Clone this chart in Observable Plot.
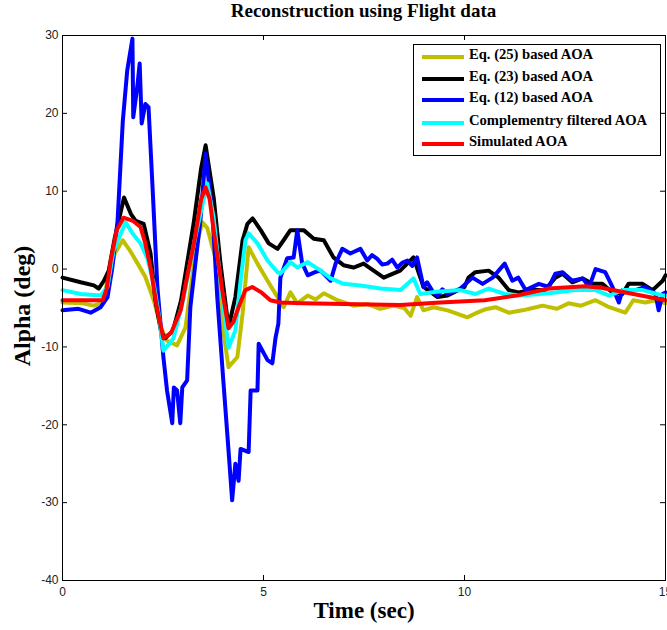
<!DOCTYPE html>
<html>
<head>
<meta charset="utf-8">
<script src="https://cdn.jsdelivr.net/npm/d3@7"></script>
<script src="https://cdn.jsdelivr.net/npm/@observablehq/plot@0.6"></script>
<style>
  html, body { margin: 0; padding: 0; background: white; }
  #wrap { position: relative; width: 667px; height: 630px; overflow: hidden; }
  #title { height: 30px; line-height: 30px; padding-left: 62px; width: 603px; text-align: center;
           font: bold 19px "Liberation Serif", "Times New Roman", serif; color: #000; }
  #legend { position: absolute; left: 413px; top: 44px; width: 246px; height: 110px;
            border: 1px solid #000; background: #fff; }
  .row { position: absolute; left: 0; height: 20px; width: 246px; }
  .sw { position: absolute; left: 8px; top: 9px; width: 42px; height: 4px; }
  .lb { position: absolute; left: 55px; top: 0; line-height: 22px; white-space: nowrap;
        font: bold 14.6px "Liberation Serif", "Times New Roman", serif; color: #000; }
</style>
</head>
<body>
<div id="wrap">
  <div id="title">Reconstruction using Flight data</div>
  <div id="chart"></div>
  <div id="legend"></div>
</div>
<script>
// Series: [time (sec), alpha (deg)]
const eq25 = [[0,-4.3],[0.5,-4.4],[0.78,-4.7],[1.0,-4.3],[1.12,-1.5],[1.3,2.0],[1.5,3.7],[1.7,2.2],[1.87,0.7],[2.06,-1.0],[2.27,-4.0],[2.45,-7.5],[2.6,-9.2],[2.85,-9.8],[3.06,-7.5],[3.2,-2.0],[3.35,3.5],[3.48,6.0],[3.6,5.3],[3.72,3.0],[3.85,0.7],[4.0,-7.9],[4.13,-12.6],[4.35,-11.3],[4.48,-5.7],[4.63,2.8],[4.85,0.7],[5.1,-1.5],[5.35,-3.6],[5.5,-4.9],[5.67,-3.0],[5.84,-4.4],[6.1,-3.4],[6.3,-3.9],[6.5,-3.1],[6.84,-4.0],[7.24,-4.7],[7.6,-4.5],[7.9,-5.1],[8.24,-4.7],[8.5,-5.0],[8.66,-6.0],[8.82,-3.6],[8.98,-5.3],[9.23,-4.9],[9.58,-5.3],[10.07,-6.2],[10.27,-5.7],[10.5,-5.2],[10.77,-4.9],[11.1,-5.6],[11.44,-5.3],[11.7,-5.0],[11.94,-4.7],[12.3,-5.1],[12.59,-4.4],[12.9,-4.7],[13.26,-4.0],[13.6,-4.9],[14.0,-5.6],[14.2,-4.0],[14.5,-4.3],[14.75,-4.0],[15,-4.4]];
const eq23 = [[0,-1.1],[0.45,-1.7],[0.78,-2.1],[0.9,-2.5],[1.03,-1.5],[1.15,-0.2],[1.3,4.0],[1.53,9.2],[1.7,7.1],[1.82,6.2],[2.02,5.8],[2.19,2.0],[2.31,-4.0],[2.45,-8.0],[2.55,-8.9],[2.75,-7.9],[2.95,-4.0],[3.26,5.8],[3.45,13.0],[3.56,15.9],[3.76,9.2],[3.93,0.7],[4.13,-7.5],[4.3,-3.6],[4.48,3.7],[4.6,5.8],[4.73,6.5],[4.93,5.0],[5.13,3.3],[5.35,2.6],[5.5,3.7],[5.67,5.0],[6.0,5.0],[6.25,3.9],[6.5,3.7],[6.74,1.5],[6.99,0.5],[7.24,0.2],[7.49,0.7],[7.74,-0.2],[7.99,-1.1],[8.4,-0.2],[8.73,1.5],[8.98,-2.3],[9.33,-3.6],[9.58,-3.4],[10.0,-2.3],[10.1,-1.1],[10.27,-0.4],[10.6,-0.2],[10.85,-1.1],[11.1,-2.7],[11.34,-3.0],[11.7,-2.7],[12.0,-2.7],[12.26,-1.1],[12.44,-0.6],[12.68,-1.7],[12.94,-1.2],[13.18,-1.9],[13.43,-1.9],[13.68,-3.0],[13.93,-3.2],[14.08,-1.9],[14.43,-1.9],[14.68,-2.7],[14.93,-1.5],[15,-0.8]];
const eq12 = [[0,-5.3],[0.4,-5.1],[0.7,-5.6],[0.95,-4.9],[1.12,-3.6],[1.24,0.2],[1.37,6.2],[1.5,19.0],[1.61,25.5],[1.74,29.6],[1.76,19.5],[1.86,23.4],[1.92,26.4],[1.97,18.7],[2.06,21.2],[2.14,20.8],[2.24,10.5],[2.36,-2.3],[2.51,-11.3],[2.6,-15.6],[2.73,-19.8],[2.77,-15.2],[2.85,-15.6],[2.93,-19.8],[2.98,-15.2],[3.1,-14.3],[3.18,-4.9],[3.3,0.5],[3.43,6.2],[3.56,14.8],[3.73,7.1],[3.85,-3.6],[4.0,-14.3],[4.13,-23.3],[4.22,-29.7],[4.3,-25.0],[4.38,-27.2],[4.43,-23.1],[4.63,-23.5],[4.68,-15.6],[4.85,-15.6],[4.88,-9.6],[5.1,-11.7],[5.22,-12.1],[5.3,-8.8],[5.37,-7.0],[5.42,-1.1],[5.59,1.4],[5.75,1.5],[5.84,5.0],[5.96,0.8],[6.1,-0.8],[6.28,-0.4],[6.42,-0.2],[6.67,-1.5],[6.8,0.8],[6.96,2.6],[7.16,2.0],[7.41,2.6],[7.58,1.1],[7.7,1.8],[7.83,1.3],[7.95,0.6],[8.08,0.7],[8.2,1.2],[8.33,0.2],[8.45,0.8],[8.58,1.1],[8.7,0.4],[8.82,1.5],[8.98,-2.3],[9.07,-1.7],[9.2,-2.8],[9.33,-3.4],[9.45,-2.6],[9.58,-3.2],[9.9,-2.5],[10.2,-1.1],[10.45,-1.9],[10.7,-1.1],[11.0,0.7],[11.19,-1.5],[11.34,-1.1],[11.52,-2.7],[11.85,-1.9],[12.1,-2.3],[12.26,-0.6],[12.44,-0.4],[12.68,-1.5],[12.94,-1.2],[13.1,-2.3],[13.26,0.0],[13.5,-0.4],[13.68,-2.3],[13.84,-4.3],[13.93,-2.7],[14.25,-2.7],[14.5,-2.3],[14.75,-3.2],[14.83,-5.3],[14.93,-3.2],[15,-3.0]];
const compFilt = [[0,-2.7],[0.45,-3.2],[0.95,-3.4],[1.12,-2.3],[1.27,2.4],[1.57,6.0],[1.74,4.6],[1.94,3.3],[2.11,1.4],[2.27,-1.9],[2.4,-6.0],[2.51,-10.5],[2.76,-8.9],[3.0,-4.0],[3.3,4.0],[3.6,11.0],[3.76,6.6],[3.93,-1.5],[4.13,-10.1],[4.3,-7.9],[4.43,-1.5],[4.55,3.7],[4.63,4.6],[4.85,3.3],[5.1,1.1],[5.35,-0.4],[5.42,-0.6],[5.67,0.9],[5.84,0.2],[6.1,0.9],[6.42,-0.2],[6.67,-1.2],[6.99,-1.9],[7.41,-2.1],[7.91,-2.5],[8.41,-2.7],[8.73,-1.2],[8.9,-3.2],[9.3,-2.9],[9.9,-2.7],[10.27,-3.2],[10.6,-2.5],[11.0,-3.2],[11.44,-3.4],[11.85,-3.2],[12.26,-3.0],[12.76,-2.7],[13.26,-2.7],[13.6,-3.4],[13.93,-2.7],[14.43,-2.7],[14.93,-3.4],[15,-3.4]];
const simulated = [[0,-4.0],[0.5,-4.0],[1.0,-4.0],[1.1,-2.5],[1.2,1.1],[1.35,5.0],[1.52,6.6],[1.75,6.2],[1.94,5.4],[2.05,3.5],[2.19,0.2],[2.35,-5.0],[2.51,-8.9],[2.7,-8.2],[2.94,-5.3],[3.1,-1.0],[3.27,3.3],[3.45,9.0],[3.56,10.5],[3.66,9.0],[3.76,5.0],[4.0,-3.6],[4.13,-7.6],[4.25,-6.8],[4.38,-4.9],[4.55,-2.7],[4.72,-2.3],[4.95,-3.0],[5.17,-4.0],[5.42,-4.3],[6.0,-4.4],[7.0,-4.5],[8.4,-4.6],[9.4,-4.3],[10.5,-4.0],[11.3,-3.4],[12.1,-2.5],[13.0,-2.2],[13.4,-2.4],[14.2,-3.2],[15,-4.0]];

const seriesNames = ["Eq. (25) based AOA", "Eq. (23) based AOA", "Eq. (12) based AOA", "Complementry filtered AOA", "Simulated AOA"];
const seriesColors = ["#bfbf00", "#000000", "#0000ff", "#00ffff", "#ff0000"];
const seriesData = [eq25, eq23, eq12, compFilt, simulated];
const xTicks = [0, 5, 10, 15];
const yTicks = [-40, -30, -20, -10, 0, 10, 20, 30];

const W = 667, H = 600, mL = 62, mR = 2, mT = 5, mB = 50;
const fw = W - mL - mR, fh = H - mT - mB;

const marks = [];
seriesData.forEach((s, i) => {
  marks.push(Plot.line(s, {x: d => d[0], y: d => d[1], stroke: seriesColors[i], strokeWidth: 4, strokeLinejoin: "round"}));
});
// inward ticks (MATLAB style) on all four sides
marks.push(Plot.ruleX(xTicks, {x: d => d, insetTop: fh - 5, stroke: "#000"}));
marks.push(Plot.ruleX(xTicks, {x: d => d, insetBottom: fh - 5, stroke: "#000"}));
marks.push(Plot.ruleY(yTicks, {y: d => d, insetRight: fw - 5, stroke: "#000"}));
marks.push(Plot.ruleY(yTicks, {y: d => d, insetLeft: fw - 5, stroke: "#000"}));
marks.push(Plot.frame({stroke: "#000", strokeWidth: 1}));
marks.push(Plot.axisX(xTicks, {tickSize: 0, tickPadding: 7, label: null, fontSize: 12, fill: "#222", tickFormat: d => String(d)}));
marks.push(Plot.axisY(yTicks, {tickSize: 0, tickPadding: 4, label: null, fontSize: 12, fill: "#222", tickFormat: d => String(d)}));
marks.push(Plot.text(["Time (sec)"], {frameAnchor: "bottom", dy: 37, text: d => d, fontSize: 23, fontWeight: "bold", fontFamily: "Liberation Serif", fill: "#000"}));
marks.push(Plot.text(["Alpha (deg)"], {frameAnchor: "left", dx: -40, dy: -2, rotate: -90, textAnchor: "middle", text: d => d, fontSize: 24, fontWeight: "bold", fontFamily: "Liberation Serif", fill: "#000"}));

const chart = Plot.plot({
  width: W, height: H,
  marginLeft: mL, marginRight: mR, marginTop: mT, marginBottom: mB,
  style: {fontFamily: "Liberation Sans, Arial, sans-serif", fontSize: "12px", background: "white", overflow: "visible"},
  x: {domain: [0, 15]},
  y: {domain: [-40, 30]},
  marks
});
document.getElementById("chart").appendChild(chart);

// legend
const leg = document.getElementById("legend");
const rowTops = [1, 23, 44, 67, 88];
seriesNames.forEach((n, i) => {
  const r = document.createElement("div");
  r.className = "row";
  r.style.top = rowTops[i] + "px";
  const sw = document.createElement("div");
  sw.className = "sw";
  sw.style.background = seriesColors[i];
  const lb = document.createElement("div");
  lb.className = "lb";
  lb.textContent = n;
  r.appendChild(sw); r.appendChild(lb);
  leg.appendChild(r);
});
</script>
</body>
</html>
